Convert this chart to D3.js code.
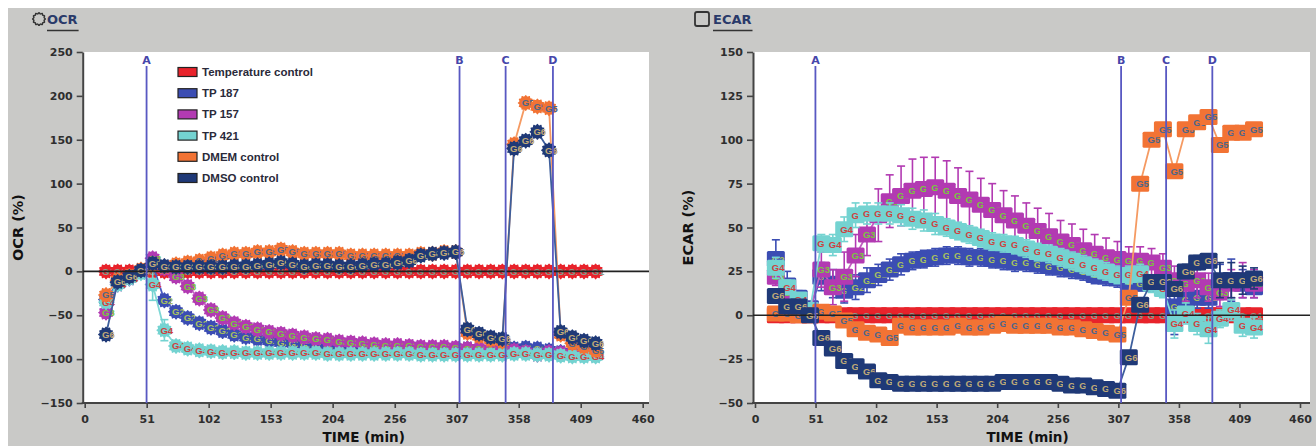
<!DOCTYPE html>
<html>
<head>
<meta charset="utf-8">
<script src="https://cdn.jsdelivr.net/npm/d3@7"></script>
<style>
body { margin: 0; background: #fff; }
svg { display: block; }
</style>
</head>
<body>
<svg width="1316" height="446"></svg>
<script>
var svg = d3.select("svg");

// measurement times (min)
var times = [17.6, 27.2, 36.8, 46.4, 56.0, 65.7, 75.3, 84.9, 94.5, 104.1, 113.7, 123.3, 132.9, 142.5, 152.1,
  161.8, 171.4, 181.0, 190.6, 200.2, 209.8, 219.4, 229.0, 238.6, 248.2, 257.9, 267.5, 277.1, 286.7, 296.3,
  305.9, 315.5, 325.1, 334.7, 344.3, 354.0, 363.6, 373.2, 382.8, 392.4, 402.0, 411.6, 421.2];

var injections = [51, 309, 347, 386];
var injectionLabels = ["A", "B", "C", "D"];

var timeTicks = [0, 51.1, 102.2, 153.3, 204.4, 255.6, 306.7, 357.8, 408.9, 460];
var timeLabels = ["0", "51", "102", "153", "204", "256", "307", "358", "409", "460"];
var ocrTicks = [-150, -100, -50, 0, 50, 100, 150, 200, 250];
var ecarTicks = [-50, -25, 0, 25, 50, 75, 100, 125, 150];

var groupNames = ["Temperature control", "TP 187", "TP 157", "TP 421", "DMEM control", "DMSO control"];
var groupColors = ["#e8232b", "#3b4db3", "#b23ab2", "#74d3d1", "#f27334", "#1f3977"];
var lineColors = ["#e8232b", "#4a5cc2", "#c15ec1", "#7fd8d6", "#f59a62", "#3d5e9c"];
var labelColors = ["#8c9c8c", "#a8c060", "#78c840", "#d04040", "#4d6688", "#c2aa78"];

// OCR (%)
var tempOCR = [0, 0, 0, 0, 0, 0, 0, 0, 0, 0, 0, 0, 0, 0, 0, 0, 0, 0, 0, 0, 0, 0, 0, 0, 0, 0, 0, 0, 0, 0, 0,
  0, 0, 0, 0, 0, 0, 0, 0, 0, 0, 0, 0];
var tp187OCR = [-32, -13, -8, 0,
  8, -33, -46, -53, -59, -64, -68, -72, -75, -77, -79, -81, -82, -83, -84, -85, -85, -86, -86, -86, -87, -87, -87, -87, -88, -88, -88,
  -88, -89, -89, -89, -88, -87, -88, -90, -92, -93, -93, -94];
var tp157OCR = [-47, -15, -8, 0,
  15, 3, -6, -17, -31, -44, -53, -59, -63, -66, -69, -71, -73, -75, -77, -78, -80, -81, -82, -83, -84, -84, -85, -86, -86, -86, -87,
  -88, -88, -89, -89, -90, -92, -95, -92, -93, -94, -95, -96];
var tp421OCR = [-35, -15, -8, -2,
  -15, -67, -85, -88, -90, -91, -92, -92, -93, -93, -93, -93, -93, -93, -93, -94, -94, -94, -94, -94, -94, -94, -94, -95, -95, -95, -95,
  -95, -95, -95, -95, -94, -94, -95, -95, -96, -97, -97, -97];
var dmemOCR = [-27, -10, -5, 2,
  8, 5, 8, 10, 12, 15, 18, 20, 20, 22, 22, 25, 22, 20, 20, 20, 20, 18, 18, 18, 18, 18, 18, 20, 20, 22, 22,
  -70, -74, -78, -80, 145, 192, 188, 186, -72, -82, -86, -90];
var dmsoOCR = [-72, -12, -6, 1,
  9, 6, 5, 5, 5, 5, 5, 6, 6, 7, 8, 10, 8, 6, 7, 7, 6, 6, 7, 8, 8, 10, 12, 18, 20, 21, 22,
  -66, -71, -75, -77, 140, 149, 159, 138, -69, -75, -79, -82];
var tp421OCRErr = [3, 3, 2, 2, 18, 12, 4, 2, 2, 2, 2, 2, 2, 2, 2, 2, 2, 2, 2, 2, 2, 2, 2, 2, 2, 2, 2, 2, 2, 2, 2,
  2, 2, 2, 2, 2, 2, 2, 2, 2, 2, 2, 2];

// ECAR (%)
var tempECAR = [0, 0, 0, 0, 0, 0, 0, 0, 0, 0, 0, 0, 0, 0, 0, 0, 0, 0, 0, 0, 0, 0, 0, 0, 0, 0, 0, 0, 0, 0, 0,
  0, 0, 0, 0, 0, 0, 0, 0, 0, 0, 0, 0];
var tp187ECAR = [32, 17, 10, 4,
  22, 18, 14, 16, 20, 23, 26, 29, 31, 32, 33, 34, 34, 33, 33, 32, 31, 30, 30, 29, 28, 27, 26, 25, 23, 22, 21,
  19, 18, 18, 17, 5, 9, 10, 10, 19, 20, 18, 16];
var tp157ECAR = [22, 13, 8, 3,
  26, 16, 22, 34, 46, 57, 65, 68, 71, 72, 73, 71, 68, 66, 63, 60, 57, 54, 51, 48, 45, 42, 40, 37, 35, 33, 32,
  31, 31, 30, 27, 20, 18, 20, 16, 13, 18, 20, 18];
var tp421ECAR = [27, 16, 9, 3,
  41, 40, 49, 57, 58, 58, 58, 57, 55, 54, 52, 50, 48, 46, 44, 42, 41, 40, 38, 36, 35, 33, 31, 29, 27, 25, 23,
  23, 24, 18, 15, -5, 1, -5, -8, -2, 3, -6, -7];
var dmemECAR = [1, 1, 0, 0,
  2, 1, -3, -8, -10, -11, -13, -6, -7, -7, -7, -7, -6, -7, -7, -6, -5, -6, -6, -6, -6, -7, -7, -8, -9, -10, -11,
  10, 75, 100, 106, 82, 106, 110, 113, 97, 104, 104, 106];
var dmsoECAR = [11, 5, 5, 0,
  -13, -19, -26, -29, -32, -37, -38, -39, -39, -39, -39, -39, -39, -39, -39, -39, -38, -38, -38, -38, -38, -39, -40, -40, -41, -42, -43,
  -24, 6, 19, 19, 15, 25, 30, 31, 20, 20, 20, 21];
var tp187ECARErr = [11, 8, 4, 3,
  8, 8, 7, 7, 7, 6, 6, 6, 5, 5, 5, 5, 5, 5, 5, 5, 5, 5, 5, 5, 5, 5, 5, 5, 5, 5, 5,
  4, 4, 4, 4, 16, 6, 6, 6, 10, 12, 8, 6];
var tp157ECARErr = [5, 5, 3, 2,
  10, 10, 14, 12, 12, 15, 15, 17, 18, 18, 17, 17, 16, 16, 15, 15, 14, 14, 13, 13, 13, 12, 12, 12, 11, 11, 10,
  8, 8, 8, 8, 8, 10, 10, 8, 8, 8, 10, 8];
var tp421ECARErr = [6, 4, 3, 2,
  5, 6, 7, 7, 6, 6, 6, 6, 6, 6, 6, 5, 5, 5, 5, 5, 5, 5, 5, 5, 5, 5, 5, 5, 5, 5, 5,
  5, 5, 5, 5, 8, 6, 6, 8, 5, 6, 6, 6];
var dmsoECARErr = [4, 3, 3, 2,
  2, 2, 2, 2, 2, 2, 2, 2, 2, 2, 2, 2, 2, 2, 2, 2, 2, 2, 2, 2, 2, 2, 2, 2, 2, 2, 2,
  3, 3, 3, 3, 4, 4, 4, 4, 10, 10, 8, 6];

var panels = [
  { title: "OCR", icon: "gear", iconX: 39, titleX: 47, ylabel: "OCR (%)", ylabelX: 18,
    left: 84.7, right: 642.7, end: 649, yDomain: [-150, 250], yTicks: ocrTicks,
    series: [tempOCR, tp187OCR, tp157OCR, tp421OCR, dmemOCR, dmsoOCR],
    errors: [null, null, null, tp421OCRErr, null, null], marker: "gear", legend: true },
  { title: "ECAR", icon: "square", iconX: 702, titleX: 713, ylabel: "ECAR (%)", ylabelX: 688,
    left: 755, right: 1300, end: 1310, yDomain: [-50, 150], yTicks: ecarTicks,
    series: [tempECAR, tp187ECAR, tp157ECAR, tp421ECAR, dmemECAR, dmsoECAR],
    errors: [null, tp187ECARErr, tp157ECARErr, tp421ECARErr, null, dmsoECARErr], marker: "box", legend: false }
];

var plotTop = 52, plotBottom = 403;
var tickFont = "'DejaVu Sans', sans-serif";
var gearPath = d3.lineRadial().curve(d3.curveCardinalClosed)(
  d3.range(24).map(function(i) { return [i / 24 * 2 * Math.PI, i % 2 ? 6.6 : 8]; }));

// grey background
svg.append("rect").attr("x", 8).attr("y", 8).attr("width", 1308).attr("height", 438).attr("fill", "#c9c9c7");

panels.forEach(function(p) {
  var x = d3.scaleLinear().domain([0, 460]).range([p.left, p.right]);
  var y = d3.scaleLinear().domain(p.yDomain).range([plotBottom, plotTop]);
  var axisX = p.left - 2;
  var g = svg.append("g");

  // title
  if (p.icon == "gear") {
    g.append("path").attr("d", gearPath).attr("transform", "translate(" + p.iconX + ",19) scale(0.8)")
      .attr("fill", "none").attr("stroke", "#333").attr("stroke-width", 1.8);
  } else {
    g.append("rect").attr("x", p.iconX - 7).attr("y", 12).attr("width", 14).attr("height", 14).attr("rx", 2)
      .attr("fill", "none").attr("stroke", "#333").attr("stroke-width", 1.8);
  }
  var title = g.append("text").attr("x", p.titleX).attr("y", 24).text(p.title)
    .attr("font-family", tickFont).attr("font-weight", "bold").attr("font-size", 13).attr("fill", "#2a3a6a");
  var tw = title.node().getComputedTextLength();
  g.append("line").attr("x1", p.titleX).attr("x2", p.titleX + tw + 1).attr("y1", 30.5).attr("y2", 30.5)
    .attr("stroke", "#333").attr("stroke-width", 1.5);

  // plot area
  g.append("rect").attr("x", axisX).attr("y", plotTop).attr("width", p.end - axisX)
    .attr("height", plotBottom - plotTop).attr("fill", "#fff");

  // axes
  var ya = g.append("g").attr("transform", "translate(" + axisX + ",0)")
    .call(d3.axisLeft(y).tickValues(p.yTicks).tickSize(6).tickSizeOuter(0).tickPadding(4).tickFormat(d3.format("d")));
  var xa = g.append("g").attr("transform", "translate(0," + plotBottom + ")")
    .call(d3.axisBottom(x).tickValues(timeTicks).tickSize(5).tickSizeOuter(0).tickPadding(7)
      .tickFormat(function(d, i) { return timeLabels[i]; }));
  xa.select(".domain").remove();
  g.append("line").attr("x1", axisX - 1).attr("x2", p.end).attr("y1", plotBottom).attr("y2", plotBottom)
    .attr("stroke", "#444").attr("stroke-width", 2);
  [ya, xa].forEach(function(a) {
    a.select(".domain").attr("stroke", "#444").attr("stroke-width", 2);
    a.selectAll(".tick line").attr("stroke", "#444").attr("stroke-width", 1.6);
    a.selectAll(".tick text").attr("font-family", tickFont).attr("font-weight", "bold")
      .attr("font-size", 11).attr("fill", "#2e2e2e");
  });

  g.append("text").attr("transform", "translate(" + p.ylabelX + "," + (plotTop + plotBottom) / 2 + ") rotate(-90)")
    .attr("text-anchor", "middle").attr("dy", "0.35em").text(p.ylabel)
    .attr("font-family", tickFont).attr("font-weight", "bold").attr("font-size", 14.5).attr("fill", "#111");
  g.append("text").attr("x", (p.left + p.right) / 2).attr("y", 442).attr("text-anchor", "middle").text("TIME (min)")
    .attr("font-family", tickFont).attr("font-weight", "bold").attr("font-size", 13.5).attr("fill", "#111");

  // series
  var line = d3.line().x(function(d, i) { return x(times[i]); }).y(function(d) { return y(d); });
  p.series.forEach(function(vals, s) {
    var sg = g.append("g");
    sg.append("path").attr("d", line(vals)).attr("fill", "none").attr("stroke", lineColors[s]).attr("stroke-width", 1.8);

    var err = p.errors[s];
    if (err) {
      vals.forEach(function(v, i) {
        var cx = x(times[i]);
        var eg = sg.append("g").attr("stroke", groupColors[s]).attr("stroke-width", 1.6);
        eg.append("line").attr("x1", cx).attr("x2", cx).attr("y1", y(v - err[i])).attr("y2", y(v + err[i]));
        eg.append("line").attr("x1", cx - 4).attr("x2", cx + 4).attr("y1", y(v + err[i])).attr("y2", y(v + err[i]));
        eg.append("line").attr("x1", cx - 4).attr("x2", cx + 4).attr("y1", y(v - err[i])).attr("y2", y(v - err[i]));
      });
    }

    vals.forEach(function(v, i) {
      var mg = sg.append("g").attr("transform", "translate(" + x(times[i]) + "," + y(v) + ")");
      if (p.marker == "gear") {
        mg.append("path").attr("d", gearPath).attr("fill", groupColors[s]);
      } else {
        mg.append("rect").attr("x", -9).attr("y", -8).attr("width", 18).attr("height", 16).attr("rx", 1.5)
          .attr("fill", groupColors[s]);
      }
      mg.append("text").attr("x", -4).attr("dy", "0.36em").text("G" + (s + 1))
        .attr("font-family", "'Liberation Sans', Arial, sans-serif").attr("font-weight", "bold")
        .attr("font-size", 9.5).attr("fill", labelColors[s]);
    });
  });

  // zero line
  g.append("line").attr("x1", axisX).attr("x2", p.end).attr("y1", y(0)).attr("y2", y(0))
    .attr("stroke", "#222").attr("stroke-width", 1.6);

  // injection markers
  injections.forEach(function(t, i) {
    g.append("line").attr("x1", x(t)).attr("x2", x(t)).attr("y1", 66).attr("y2", plotBottom)
      .attr("stroke", "#5858c2").attr("stroke-width", 1.8);
    g.append("text").attr("x", x(t)).attr("y", 64).attr("text-anchor", "middle").text(injectionLabels[i])
      .attr("font-family", tickFont).attr("font-weight", "bold").attr("font-size", 11).attr("fill", "#4646aa");
  });

  // legend
  if (p.legend) {
    groupNames.forEach(function(name, i) {
      var ly = 72 + i * 21.2;
      g.append("rect").attr("x", 178).attr("y", ly - 4.5).attr("width", 19).attr("height", 9)
        .attr("fill", groupColors[i]).attr("stroke", "#222").attr("stroke-width", 1.2);
      g.append("text").attr("x", 202).attr("y", ly).attr("dy", "0.35em").text(name)
        .attr("font-family", "'Liberation Sans', Arial, sans-serif").attr("font-weight", "bold")
        .attr("font-size", 11.5).attr("fill", "#2a2a3a");
    });
  }
});
</script>
</body>
</html>
